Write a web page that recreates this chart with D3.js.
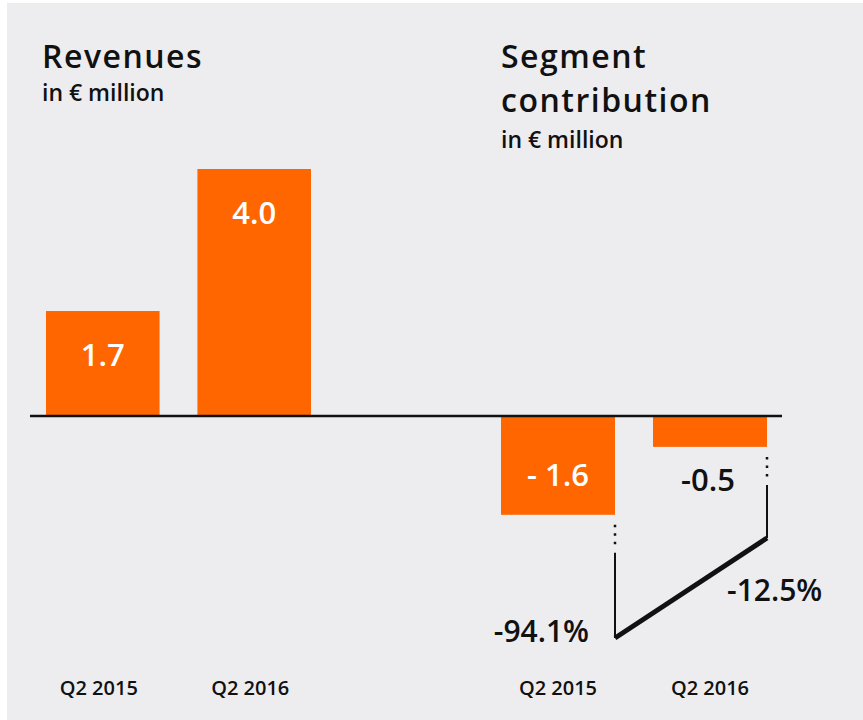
<!DOCTYPE html>
<html>
<head>
<meta charset="utf-8">
<script src="https://cdn.jsdelivr.net/npm/d3@7"></script>
<style>
  body { margin: 0; background: #fff; }
  text { font-family: "Open Sans", "DejaVu Sans", sans-serif; }
</style>
</head>
<body>
<div id="chart"></div>
<script>
// data
const categories = ['Q2 2015', 'Q2 2016'];
const revenues = [1.7, 4.0];
const contribution = [-1.6, -0.5];
const contributionLabels = ['- 1.6', '-0.5'];
const marginLabels = ['-94.1%', '-12.5%'];
const marginValues = [-94.1, -12.5];

const width = 863, height = 720;
const orange = '#ff6600';

const svg = d3.select('#chart').append('svg')
    .attr('width', width).attr('height', height);

// grey panel
svg.append('rect').attr('x', 7).attr('y', 3)
    .attr('width', width - 7).attr('height', height - 3)
    .attr('fill', '#ededf0');

const baseY = 416;
const y = d3.scaleLinear().domain([0, 4]).range([baseY, baseY - 247]);

const xLeft = d3.scaleBand().domain(categories).range([46, 311]).paddingInner(0.25);
const xRight = d3.scaleBand().domain(categories).range([501, 767]).paddingInner(0.25);

// titles
function titles(x, lines, subY) {
    const g = svg.append('g');
    lines.forEach((l, i) => {
        g.append('text').attr('x', x).attr('y', 68 + i * 44)
            .style('font-size', '32px').style('font-weight', 600)
            .style('letter-spacing', '1.5px')
            .attr('fill', '#111').text(l);
    });
    g.append('text').attr('x', x).attr('y', subY)
        .style('font-size', '23px').style('font-weight', 600)
        .attr('fill', '#111').text('in € million');
}
titles(42, ['Revenues'], 101);
titles(501, ['Segment', 'contribution'], 148);

// revenue bars
const left = svg.append('g');
left.selectAll('rect').data(revenues).join('rect')
    .attr('x', (d, i) => xLeft(categories[i]))
    .attr('width', xLeft.bandwidth())
    .attr('y', d => y(d))
    .attr('height', d => y(0) - y(d))
    .attr('fill', orange);
left.selectAll('text.val').data(revenues).join('text')
    .attr('class', 'val')
    .attr('x', (d, i) => xLeft(categories[i]) + xLeft.bandwidth() / 2)
    .attr('y', d => y(d) + 55)
    .attr('text-anchor', 'middle')
    .attr('fill', '#fff')
    .style('font-size', '31px').style('font-weight', 600)
    .text(d => d.toFixed(1));

// contribution bars
const right = svg.append('g');
right.selectAll('rect').data(contribution).join('rect')
    .attr('x', (d, i) => xRight(categories[i]))
    .attr('width', xRight.bandwidth())
    .attr('y', y(0) + 1)
    .attr('height', d => y(d) - y(0) - 1)
    .attr('fill', orange);
right.selectAll('text.val').data(contribution).join('text')
    .attr('class', 'val')
    .attr('x', (d, i) => xRight(categories[i]) + xRight.bandwidth() / 2 - (i === 0 ? 0 : 2))
    .attr('y', (d, i) => i === 0 ? 486 : 491)
    .attr('text-anchor', 'middle')
    .attr('fill', (d, i) => i === 0 ? '#fff' : '#111')
    .style('font-size', '31px').style('font-weight', 600)
    .text((d, i) => contributionLabels[i]);

// baseline
svg.append('line').attr('x1', 30).attr('x2', 782)
    .attr('y1', baseY).attr('y2', baseY)
    .attr('stroke', '#111').attr('stroke-width', 2.5);

// margin connector
const m = d3.scaleLinear().domain([-94.1, -12.5]).range([638, 538]);
const edges = contribution.map((d, i) => xRight(categories[i]) + xRight.bandwidth());
const conn = svg.append('g').attr('stroke', '#111');
contribution.forEach((d, i) => {
    const top = y(d);
    conn.append('line').attr('x1', edges[i]).attr('x2', edges[i])
        .attr('y1', top + 10).attr('y2', top + 32)
        .attr('stroke-width', 2.5).attr('stroke-dasharray', '2.5 6');
    conn.append('line').attr('x1', edges[i]).attr('x2', edges[i])
        .attr('y1', top + 38).attr('y2', m(marginValues[i]))
        .attr('stroke-width', 2);
});
conn.append('line')
    .attr('x1', edges[0]).attr('y1', m(marginValues[0]))
    .attr('x2', edges[1]).attr('y2', m(marginValues[1]))
    .attr('stroke-width', 5);

svg.append('text').attr('x', 589).attr('y', 642).attr('text-anchor', 'end')
    .attr('fill', '#111').style('font-size', '30px').style('font-weight', 600)
    .text(marginLabels[0]);
svg.append('text').attr('x', 727).attr('y', 601)
    .attr('fill', '#111').style('font-size', '30px').style('font-weight', 600)
    .text(marginLabels[1]);

// category axes
[[xLeft, -4], [xRight, 0]].forEach(([sc, dx]) => {
    const ax = svg.append('g').attr('transform', `translate(${dx},695)`)
        .call(d3.axisBottom(sc).tickSize(0).tickPadding(0));
    ax.select('.domain').remove();
    ax.selectAll('text')
        .attr('dy', 0)
        .attr('fill', '#111')
        .style('font-family', '"Open Sans", sans-serif')
        .style('font-size', '20px').style('font-weight', 600);
});
</script>
</body>
</html>
